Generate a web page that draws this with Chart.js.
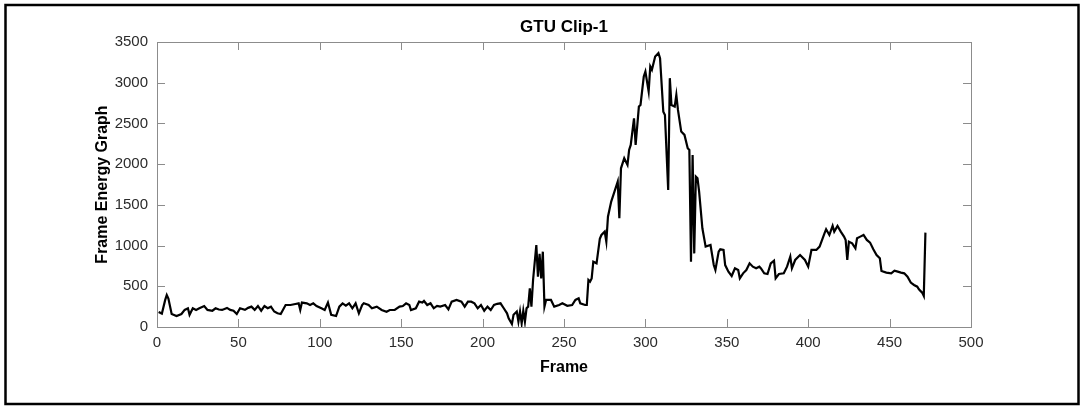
<!DOCTYPE html>
<html>
<head>
<meta charset="utf-8">
<script src="https://cdn.jsdelivr.net/npm/chart.js@4.4.1/dist/chart.umd.min.js"></script>
<style>
  html, body { margin: 0; padding: 0; background: #fff; }
  #wrap { width: 1084px; height: 408px; }
</style>
</head>
<body>
<div id="wrap"><canvas id="grafico" width="1084" height="408"></canvas></div>
<script>
// Energia por quadro do clipe GTU Clip-1

const quadros = [
  1, 3, 5, 6, 7, 9, 12, 15, 17, 19, 20, 22, 24, 26, 29, 31, 34, 36, 38, 40,
  43, 45, 47, 49, 51, 54, 56, 58, 60, 62, 64, 66, 68, 70, 72, 74, 76, 79, 82, 85,
  87, 88, 89, 92, 94, 96, 98, 101, 103, 105, 107, 110, 112, 114, 116, 118, 120, 122, 124, 126,
  127, 130, 132, 135, 138, 141, 143, 146, 149, 151, 153, 155, 156, 159, 161, 163, 164, 166, 168, 170,
  172, 174, 177, 179, 181, 184, 187, 189, 191, 193, 195, 197, 199, 201, 203, 205, 207, 209, 211, 213,
  215, 216, 218, 219, 221, 222, 223, 224, 225, 226, 227, 228, 229, 230, 231, 233, 234, 235, 236, 237,
  238, 239, 242, 244, 247, 249, 252, 255, 257, 259, 260, 263, 264, 265, 266, 267, 268, 270, 272, 273,
  275, 276, 277, 279, 281, 283, 284, 285, 287, 289, 290, 291, 293, 294, 296, 297, 299, 300, 302, 303,
  304, 306, 308, 309, 311, 312, 314, 315, 316, 318, 319, 320, 322, 324, 326, 327, 328, 329, 330, 331,
  332, 333, 335, 337, 340, 342, 343, 345, 346, 348, 349, 351, 353, 355, 357, 358, 360, 362, 364, 366,
  368, 370, 371, 373, 375, 377, 379, 380, 382, 385, 387, 389, 390, 392, 395, 398, 400, 402, 405, 407,
  410, 411, 413, 415, 416, 418, 420, 422, 423, 424, 425, 427, 429, 430, 432, 434, 436, 438, 440, 442,
  444, 445, 448, 451, 453, 455, 457, 459, 461, 463, 465, 467, 468, 470, 471, 472
];

const energia = [
  185, 165, 330, 393, 350, 160, 135, 160, 210, 230, 150, 230, 210, 230, 258, 210, 200, 230, 215, 210,
  235, 210, 200, 160, 230, 210, 235, 250, 210, 258, 200, 258, 230, 250, 190, 168, 160, 270, 270, 283,
  291, 209, 300, 291, 270, 291, 258, 230, 209, 300, 150, 135, 250, 290, 262, 291, 230, 291, 168, 270,
  291, 270, 230, 250, 209, 188, 209, 209, 250, 258, 291, 270, 209, 230, 311, 300, 320, 270, 291, 230,
  260, 250, 270, 217, 311, 332, 311, 250, 311, 311, 291, 230, 270, 200, 250, 209, 270, 285, 291, 230,
  168, 107, 37, 150, 190, 66, 190, 45, 200, 66, 230, 250, 475, 250, 577, 1007, 618, 900, 597, 925,
  250, 332, 332, 250, 270, 291, 260, 270, 332, 352, 290, 270, 270, 577, 557, 597, 802, 782, 1084, 1130,
  1171, 1048, 1355, 1540, 1663, 1785, 1335, 1949, 2072, 1990, 2174, 2236, 2563, 2236, 2707, 2727, 3076, 3137, 2891, 3199,
  3158, 3322, 3363, 3301, 2645, 2604, 1683, 3056, 2727, 2707, 2850, 2666, 2400, 2359, 2195, 2174, 802, 2113, 904, 1846,
  1826, 1663, 1212, 987, 1007, 761, 700, 925, 954, 946, 760, 680, 627, 721, 700, 598, 659, 700, 782, 741,
  721, 741, 720, 659, 651, 782, 815, 598, 651, 659, 741, 864, 721, 823, 884, 823, 741, 946, 946, 987,
  1151, 1200, 1130, 1241, 1171, 1241, 1171, 1110, 1069, 823, 1048, 1028, 966, 1089, 1110, 1130, 1069, 1036, 954, 884,
  843, 688, 668, 659, 692, 680, 668, 659, 618, 545, 516, 495, 463, 422, 381, 1159
];

const ticksX = [0, 50, 100, 150, 200, 250, 300, 350, 400, 450, 500];
const ticksY = [0, 500, 1000, 1500, 2000, 2500, 3000, 3500];

const corEixo = '#8c8c8c';
const corTexto = '#2b2b2b';
const fonte = 'Liberation Sans, Arial, Helvetica, sans-serif';

// caixa dos eixos com marcas internas + moldura externa da figura
const caixaEixos = {
  id: 'caixaEixos',
  beforeDraw(chart) {
    const ctx = chart.ctx;
    ctx.save();
    ctx.fillStyle = '#fff';
    ctx.fillRect(0, 0, chart.width, chart.height);
    ctx.restore();
  },
  afterDatasetsDraw(chart) {
    const { ctx, chartArea: a, scales } = chart;
    const marca = 8;
    ctx.save();
    ctx.strokeStyle = corEixo;
    ctx.lineWidth = 1;
    ctx.strokeRect(a.left + 0.5, a.top + 0.5, a.right - a.left, a.bottom - a.top);
    ctx.beginPath();
    scales.x.ticks.forEach(t => {
      const px = Math.round(scales.x.getPixelForValue(t.value)) + 0.5;
      ctx.moveTo(px, a.bottom); ctx.lineTo(px, a.bottom - marca);
      ctx.moveTo(px, a.top); ctx.lineTo(px, a.top + marca);
    });
    scales.y.ticks.forEach(t => {
      const py = Math.round(scales.y.getPixelForValue(t.value)) + 0.5;
      ctx.moveTo(a.left, py); ctx.lineTo(a.left + marca, py);
      ctx.moveTo(a.right, py); ctx.lineTo(a.right - marca, py);
    });
    ctx.stroke();
    ctx.strokeStyle = '#000';
    ctx.lineWidth = 2.5;
    ctx.strokeRect(5.5, 5, 1073, 399);
    ctx.restore();
  }
};

new Chart(document.getElementById('grafico'), {
  type: 'line',
  data: {
    datasets: [{
      data: quadros.map((q, i) => ({ x: q, y: energia[i] })),
      borderColor: '#000',
      borderWidth: 2.2,
      pointRadius: 0,
      tension: 0,
      fill: false
    }]
  },
  options: {
    responsive: false,
    animation: false,
    devicePixelRatio: 1,
    layout: { padding: { left: 0, right: 113, top: 0, bottom: 0 } },
    plugins: {
      legend: { display: false },
      tooltip: { enabled: false },
      title: {
        display: true,
        text: 'GTU Clip-1',
        fullSize: false,
        color: '#000',
        font: { family: fonte, size: 17, weight: 'bold' },
        padding: { top: 17, bottom: 4.6 }
      }
    },
    scales: {
      x: {
        type: 'linear',
        min: ticksX[0],
        max: ticksX[ticksX.length - 1],
        grid: { display: false, drawTicks: false },
        border: { display: false },
        ticks: {
          stepSize: ticksX[1] - ticksX[0],
          padding: 7,
          color: corTexto,
          font: { family: fonte, size: 15 },
          callback: (v) => String(v)
        },
        title: {
          display: true,
          text: 'Frame',
          color: '#000',
          font: { family: fonte, size: 16, weight: 'bold' },
          padding: { top: 0, bottom: 30.4 }
        },
        afterFit: (s) => { s.height = 81; }
      },
      y: {
        min: ticksY[0],
        max: ticksY[ticksY.length - 1],
        grid: { display: false, drawTicks: false },
        border: { display: false },
        ticks: {
          stepSize: ticksY[1] - ticksY[0],
          padding: 9,
          color: corTexto,
          font: { family: fonte, size: 15 },
          callback: (v) => String(v)
        },
        title: {
          display: true,
          text: 'Frame Energy Graph',
          color: '#000',
          font: { family: fonte, size: 16, weight: 'bold' },
          padding: { top: 93.4, bottom: 0 }
        },
        afterFit: (s) => { s.width = 157; }
      }
    }
  },
  plugins: [caixaEixos]
});
</script>
</body>
</html>
